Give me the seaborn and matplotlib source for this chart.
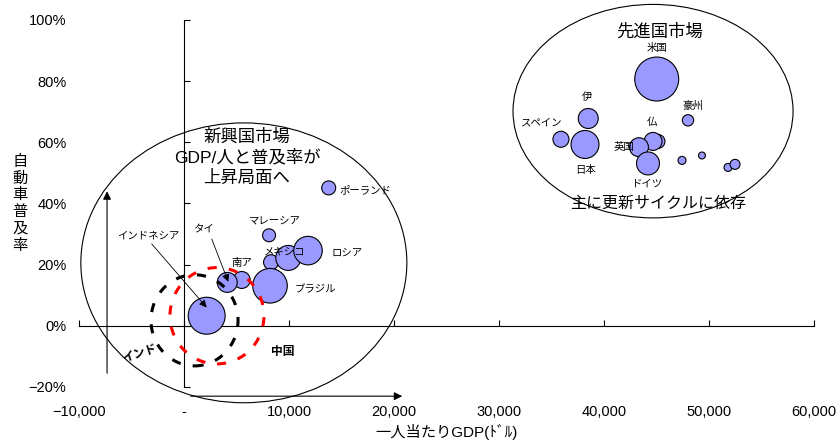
import numpy as np
import pandas as pd
import seaborn as sns
import matplotlib.pyplot as plt
from matplotlib.patches import Ellipse
from matplotlib.ticker import FuncFormatter, MultipleLocator

# one row per bubble: GDP per person (USD), car ownership rate, bubble value
countries = ['インドネシア', 'タイ', '南ア', 'ブラジル', 'トルコ', 'メキシコ', 'ロシア', 'マレーシア', 'ポーランド',
             'スペイン', '日本', '伊', '英国', '仏', 'カナダ', 'ドイツ', '米国', '豪州',
             'その他A', 'その他B', 'その他C', 'その他D']
gdp = [2160, 4120, 5500, 8190, 8290, 9930, 11810, 8100, 13780,
       35900, 38190, 38500, 43330, 44670, 45140, 44190, 45020, 48000,
       47430, 49330, 52480, 51810]
rate = [0.033, 0.142, 0.150, 0.131, 0.208, 0.222, 0.246, 0.296, 0.451,
        0.610, 0.593, 0.678, 0.584, 0.603, 0.603, 0.531, 0.807, 0.672,
        0.541, 0.557, 0.528, 0.518]
bubble = [342, 100, 72, 300, 56, 156, 204, 42, 49,
          64, 196, 100, 90, 81, 49, 132, 484, 32,
          16, 12, 25, 16]

x_ticks = [-10000, 0, 10000, 20000, 30000, 40000, 50000, 60000]
y_ticks = [-0.2, 0, 0.2, 0.4, 0.6, 0.8, 1.0]

plt.rcParams['font.family'] = ['Liberation Sans', 'Noto Sans CJK JP', 'DejaVu Sans']

fig = plt.figure(figsize=(8.37, 4.43), dpi=100)
ax = fig.add_axes([79 / 837, 56 / 443, 735 / 837, 367 / 443])

df = pd.DataFrame({'country': countries, 'gdp': gdp, 'rate': rate, 'bubble': bubble})
df = df.sort_values('bubble')  # bigger bubbles drawn on top, like excel
sns.scatterplot(data=df, x='gdp', y='rate', size='bubble', sizes=(0, 2.07 * max(bubble)),
                size_norm=(0, max(bubble)), color='#9999ff', edgecolor='black', linewidth=0.8,
                alpha=1, legend=False, ax=ax, zorder=3)

ax.set_xlim(x_ticks[0], x_ticks[-1])
ax.set_ylim(y_ticks[0], y_ticks[-1])
ax.xaxis.set_major_locator(MultipleLocator(10000))
ax.yaxis.set_major_locator(MultipleLocator(0.2))
ax.xaxis.set_major_formatter(FuncFormatter(
    lambda v, p: '-' if v == 0 else f'{v:,.0f}'.replace('-', '\u2212')))
ax.yaxis.set_major_formatter(FuncFormatter(lambda v, p: f'{v * 100:.0f}%'.replace('-', '\u2212')))

# axis lines crossing at zero, labels kept at the edges (second axes)
for s in ['top', 'right']:
    ax.spines[s].set_visible(False)
ax.spines['left'].set_position(('data', 0))
ax.spines['bottom'].set_position(('data', 0))
for s in ['left', 'bottom']:
    ax.spines[s].set_linewidth(0.8)
ax.tick_params(direction='in', length=4, width=0.8, labelleft=False, labelbottom=False)
ax.set_xlabel('')
ax.set_ylabel('')

ax2 = fig.add_axes(ax.get_position(), sharex=ax, sharey=ax)
ax2.patch.set_visible(False)
for s in ax2.spines.values():
    s.set_visible(False)
ax2.tick_params(length=0, labelsize=10.5)
ax2.tick_params(axis='y', pad=9)
ax2.tick_params(axis='x', pad=13)
ax2.set_xlabel('一人当たりGDP(ﾄﾞﾙ)', fontsize=11, va='center')
ax2.xaxis.set_label_coords(0.5, -0.123)
ax2.set_ylabel('\n'.join('自動車普及率'), fontsize=11, rotation=0, va='center', ha='center',
               linespacing=1.25)
ax2.yaxis.set_label_coords(-0.08, 0.5)

# market group ellipses
ax.add_patch(Ellipse((5700, 0.206), 31050, 0.915, fill=False, lw=0.8, ec='black', clip_on=False, zorder=2))
ax.add_patch(Ellipse((44670, 0.702), 26670, 0.698, fill=False, lw=0.8, ec='black', clip_on=False, zorder=2))
# india / china circles
ax.add_patch(Ellipse((1000, 0.018), 8290, 0.298, fill=False, lw=2.2, ec='black',
                     ls=(0, (3, 4)), zorder=4))
ax.add_patch(Ellipse((3140, 0.033), 8950, 0.315, fill=False, lw=2.2, ec='red',
                     ls=(0, (3, 4)), zorder=4))

# growth arrows
arr = dict(arrowstyle='-|>', color='black', lw=0.8, mutation_scale=12)
ax.annotate('', xy=(-7330, 0.449), xytext=(-7330, -0.164), arrowprops=arr, annotation_clip=False)
ax.annotate('', xy=(21050, -0.230), xytext=(380, -0.230), arrowprops=arr, annotation_clip=False)

# pointer labels
arr2 = dict(arrowstyle='-|>', color='black', lw=0.6, mutation_scale=11, shrinkA=0, shrinkB=0)
ax.annotate('', xy=(2160, 0.060), xytext=(-3080, 0.268), arrowprops=arr2)
ax.annotate('', xy=(4220, 0.144), xytext=(2640, 0.284), arrowprops=arr2)

small = [('インドネシア', -3400, 0.295), ('タイ', 1810, 0.318), ('南ア', 5520, 0.207),
         ('ブラジル', 12480, 0.121), ('メキシコ', 9620, 0.243), ('ロシア', 15520, 0.239),
         ('マレーシア', 8670, 0.344), ('ポーランド', 17240, 0.443),
         ('米国', 45050, 0.908), ('伊', 38380, 0.748), ('スペイン', 34100, 0.666),
         ('日本', 38290, 0.508), ('仏', 44570, 0.666), ('英国', 41900, 0.584),
         ('ドイツ', 44190, 0.466), ('豪州', 48480, 0.718)]
for txt, x, y in small:
    ax.text(x, y, txt, fontsize=7.5, ha='center', va='center', zorder=5)

ax.text(9430, -0.085, '中国', fontsize=8.5, fontweight='bold', ha='center', va='center')
ax.text(-4190, -0.092, 'インド', fontsize=8.5, fontweight='bold', ha='center', va='center', rotation=18)

ax.text(6000, 0.551, '新興国市場\nGDP/人と普及率が\n上昇局面へ', fontsize=12.5, ha='center', va='center',
        linespacing=1.3, zorder=5)
ax.text(45330, 0.961, '先進国市場', fontsize=12.5, ha='center', va='center', clip_on=False)
ax.text(45140, 0.400, '主に更新サイクルに依存', fontsize=11.5, ha='center', va='center', zorder=5)

plt.savefig('out.png', dpi=100)
